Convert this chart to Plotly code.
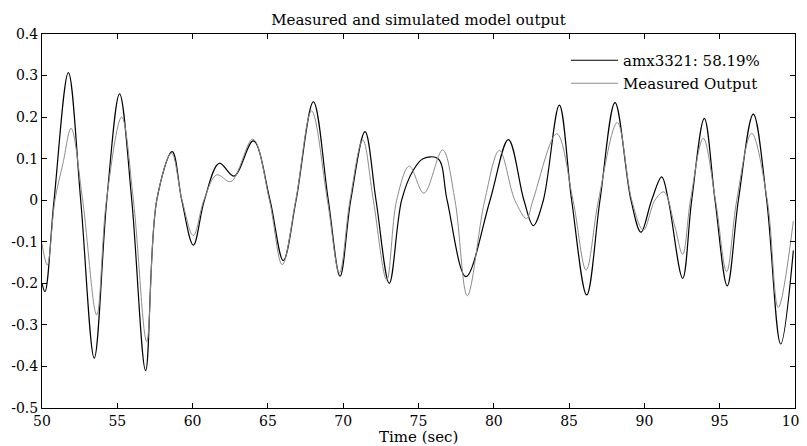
import plotly.graph_objects as go

# Simulated model output (amx3321)
sim_t = [50.0, 50.2, 50.8, 51.75, 52.57, 53.47, 54.3, 55.15, 55.96, 56.88, 57.62, 58.65,
         59.28, 60.05, 60.78, 61.77, 62.75, 64.03, 65.14, 66.02, 66.87, 68.02, 69.01, 69.79,
         70.5, 71.45, 72.18, 73.06, 73.88, 74.65, 75.3, 76.3, 76.9, 78.15, 79.75, 80.97,
         82.0, 82.62, 83.29, 84.35, 85.17, 86.17, 87.05, 88.05, 89.11, 89.77, 90.48, 91.15,
         91.59, 92.54, 93.14, 93.98, 94.69, 95.5, 96.24, 97.23, 98.12, 99.05, 99.89]
sim_y = [-0.2, -0.22, 0.0, 0.307, 0.0, -0.38, 0.0, 0.256, 0.0, -0.41, 0.0, 0.117,
         0.0, -0.108, 0.0, 0.089, 0.058, 0.143, 0.0, -0.145, 0.0, 0.237, 0.0, -0.183,
         0.0, 0.165, 0.0, -0.2, 0.0, 0.072, 0.1, 0.1, 0.0, -0.184, 0.0, 0.146,
         0.0, -0.061, 0.0, 0.229, 0.0, -0.228, 0.0, 0.235, 0.0, -0.077, 0.0, 0.056,
         0.0, -0.188, 0.0, 0.197, 0.0, -0.206, 0.0, 0.207, 0.0, -0.346, -0.121]

# Measured output
meas_t = [50.0, 50.35, 50.86, 51.4, 51.93, 52.7, 53.63, 54.28, 55.29, 56.07, 56.95, 57.62,
          58.6, 59.3, 60.05, 60.75, 61.6, 62.55, 64.0, 65.1, 65.95, 66.85, 67.9, 68.95,
          69.75, 70.45, 71.3, 72.0, 72.89, 73.55, 74.39, 75.36, 76.6, 77.42, 78.24, 79.4,
          80.37, 81.4, 82.18, 82.6, 84.18, 85.26, 86.13, 86.95, 88.2, 89.16, 89.93, 90.7,
          91.3, 92.0, 92.54, 93.06, 93.91, 94.72, 95.46, 96.13, 97.12, 98.16, 98.89, 99.89]
meas_y = [-0.105, -0.156, 0.0, 0.09, 0.173, 0.0, -0.276, 0.0, 0.2, 0.0, -0.34, 0.0,
          0.113, 0.0, -0.085, 0.0, 0.061, 0.045, 0.147, 0.0, -0.155, 0.0, 0.215, 0.0,
          -0.175, 0.0, 0.145, 0.0, -0.192, 0.0, 0.082, 0.017, 0.121, 0.0, -0.23, 0.0,
          0.12, 0.0, -0.044, 0.0, 0.16, 0.0, -0.168, 0.0, 0.187, 0.0, -0.072, 0.0,
          0.02, -0.06, -0.13, 0.0, 0.149, 0.0, -0.172, 0.0, 0.161, 0.0, -0.258, -0.05]

x_ticks = [50, 55, 60, 65, 70, 75, 80, 85, 90, 95, 100]
y_ticks = [0.4, 0.3, 0.2, 0.1, 0, -0.1, -0.2, -0.3, -0.4, -0.5]
y_labels = ["0.4", "0.3", "0.2", "0.1", "0", "-0.1", "-0.2", "-0.3", "-0.4", "-0.5"]

FONT = "DejaVu Serif"

fig = go.Figure()
fig.add_trace(go.Scatter(x=sim_t, y=sim_y, mode="lines", name="amx3321: 58.19%",
                         legend="legend",
                         line=dict(color="black", width=1.2, shape="spline", smoothing=1.0)))
fig.add_trace(go.Scatter(x=meas_t, y=meas_y, mode="lines", name="Measured Output",
                         legend="legend2",
                         line=dict(color="#8c8c8c", width=1.0, shape="spline", smoothing=1.0)))

axis_common = dict(showline=True, linecolor="black", linewidth=1, mirror="allticks",
                   ticks="inside", ticklen=5, tickcolor="black", showgrid=False,
                   zeroline=False, automargin=False, ticklabeloverflow="allow",
                   tickfont=dict(family=FONT, size=14, color="black"))

legend_common = dict(x=(566 - 42) / 753, xanchor="left", yanchor="top",
                     bgcolor="rgba(0,0,0,0)", borderwidth=0, itemwidth=47,
                     font=dict(family=FONT, size=15, color="black"))

# The page body adds an 8px offset; figure is sized so the plot box lands at
# x 42..795, y 34..408 of the window.
fig.update_layout(
    width=799, height=438,
    margin=dict(l=34, r=12, t=26, b=38),
    paper_bgcolor="white", plot_bgcolor="white",
    title=dict(text="Measured and simulated model output", x=0.5, xref="paper",
               y=1 - 12 / 438, yanchor="middle",
               font=dict(family=FONT, size=15, color="black")),
    font=dict(family=FONT, color="black"),
    xaxis=dict(range=[50, 100], tickvals=x_ticks, **axis_common),
    yaxis=dict(range=[-0.5, 0.4], tickvals=y_ticks, ticktext=y_labels, **axis_common),
    legend=dict(y=(408 - 44) / 374, **legend_common),
    legend2=dict(y=(408 - 67) / 374, **legend_common),
    showlegend=True,
    annotations=[dict(text="Time (sec)", x=0.5, xref="paper", y=-(429 - 400) / 374,
                      yref="paper", yanchor="middle", xanchor="center", showarrow=False,
                      font=dict(family=FONT, size=15, color="black"))],
)

fig.write_html("out.html")
